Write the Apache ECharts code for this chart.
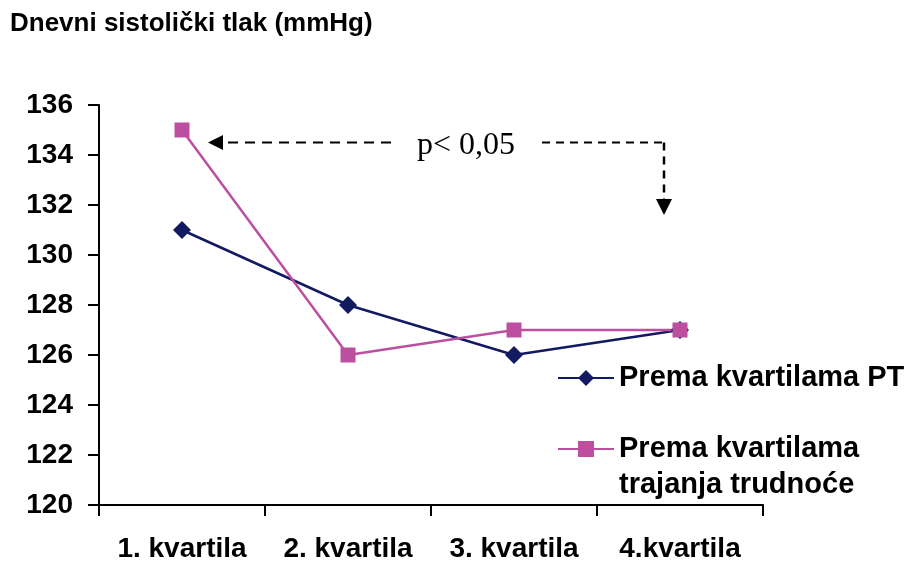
<!DOCTYPE html>
<html><head><meta charset="utf-8">
<script src="https://cdn.jsdelivr.net/npm/echarts@6/dist/echarts.min.js"></script>
<style>html,body{margin:0;padding:0;background:#fff}#c{width:909px;height:563px}</style>
</head><body><div id="c"></div>
<script>
const categories = ['1. kvartila', '2. kvartila', '3. kvartila', '4.kvartila'];
const seriesPT = [131, 128, 126, 127];
const seriesTrajanje = [135, 126, 127, 127];
const seriesNames = ['Prema kvartilama PT', 'Prema kvartilama\ntrajanja trudnoće'];
const yMin = 120, yMax = 136, yStep = 2;
const annotationText = 'p< 0,05';
const arrowLevel = 134.5;
const arrowDownEnd = 131.6;

const navy = '#121A62';
const pink = '#BC4FA0';
const chart = echarts.init(document.getElementById('c'));
const bold = {fontFamily: 'Liberation Sans, Arial, sans-serif', fontWeight: 'bold', color: '#000'};
chart.setOption({
  animation: false,
  title: {text: 'Dnevni sistolički tlak (mmHg)', left: 5, top: 6,
    textStyle: Object.assign({fontSize: 26}, bold)},
  grid: {left: 99, right: 146, top: 105, bottom: 57},
  legend: [
    {data: [seriesNames[0]], left: 552, top: 356, orient: 'vertical', itemWidth: 56, itemHeight: 20, itemGap: 0,
     textStyle: Object.assign({fontSize: 29, lineHeight: 34}, bold)},
    {data: [seriesNames[1]], left: 552, top: 390, orient: 'vertical', itemWidth: 56, itemHeight: 20, itemGap: 0,
     formatter: function (n) { return ' \n' + n; },
     textStyle: Object.assign({fontSize: 29, lineHeight: 36}, bold)}
  ],
  xAxis: {type: 'category', data: categories, boundaryGap: true,
    axisLine: {lineStyle: {color: '#000', width: 2}},
    axisTick: {show: true, interval: 0, length: 11, inside: false, lineStyle: {color: '#000', width: 2}},
    axisLabel: Object.assign({fontSize: 28, margin: 30, interval: 0, hideOverlap: false}, bold)},
  yAxis: {type: 'value', min: yMin, max: yMax, interval: yStep,
    splitLine: {show: false},
    axisLine: {show: true, lineStyle: {color: '#000', width: 2}},
    axisTick: {show: true, length: 11, lineStyle: {color: '#000', width: 2}},
    axisLabel: Object.assign({fontSize: 28, margin: 26}, bold)},
  series: [
    {name: seriesNames[0], type: 'line', data: seriesPT, symbol: 'diamond', symbolSize: 18,
     lineStyle: {color: navy, width: 2.5}, itemStyle: {color: navy}},
    {name: seriesNames[1], type: 'line', data: seriesTrajanje, symbol: 'rect', symbolSize: 15,
     lineStyle: {color: pink, width: 2.5}, itemStyle: {color: pink}}
  ]
});

function drawAnnotation() {
  const yA = chart.convertToPixel({yAxisIndex: 0}, arrowLevel);
  const yB = chart.convertToPixel({yAxisIndex: 0}, arrowDownEnd);
  const x0 = chart.convertToPixel({xAxisIndex: 0}, categories[0]);
  const x3 = chart.convertToPixel({xAxisIndex: 0}, categories[3]);
  const xL = x0 + 26, xR = x3 - 16;
  const dash = {stroke: '#000', lineWidth: 2, lineDash: [10, 7]};
  chart.setOption({graphic: [
    {type: 'line', shape: {x1: xL + 20, y1: yA, x2: 398, y2: yA}, style: dash},
    {type: 'line', shape: {x1: 542, y1: yA, x2: xR, y2: yA}, style: {stroke: '#000', lineWidth: 2, lineDash: [8, 6]}},
    {type: 'line', shape: {x1: xR, y1: yA, x2: xR, y2: yB - 16}, style: {stroke: '#000', lineWidth: 2.5, lineDash: [8, 6]}},
    {type: 'polygon', shape: {points: [[xL, yA], [xL + 15, yA - 7.5], [xL + 15, yA + 7.5]]}, style: {fill: '#000'}},
    {type: 'polygon', shape: {points: [[xR, yB], [xR - 8, yB - 16], [xR + 8, yB - 16]]}, style: {fill: '#000'}},
    {type: 'text', x: 466, y: yA + 3, style: {text: annotationText, fontFamily: 'Liberation Serif, Times New Roman, serif',
      fontSize: 32, fill: '#000', align: 'center', verticalAlign: 'middle'}}
  ]});
}
drawAnnotation();
</script></body></html>
